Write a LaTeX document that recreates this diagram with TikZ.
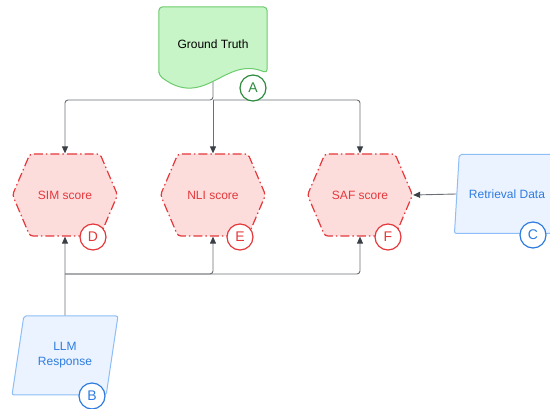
\documentclass[tikz,border=0pt]{standalone}
\usepackage{fontspec}
\setmainfont{Liberation Sans}
\usetikzlibrary{shapes.geometric,shapes.symbols,arrows.meta,backgrounds}

\definecolor{gtfill}{HTML}{C8F5C8}
\definecolor{gtline}{HTML}{6CCB6C}
\definecolor{gtdark}{HTML}{2E8B3E}
\definecolor{scorered}{HTML}{E5383B}
\definecolor{scorefill}{HTML}{FDDCDC}
\definecolor{inblue}{HTML}{2E7CE0}
\definecolor{inline}{HTML}{8DBEF7}
\definecolor{infill}{HTML}{EAF3FF}
\definecolor{linkgray}{HTML}{6B6F75}
\definecolor{arrowdark}{HTML}{3A3F45}

\tikzset{
  label font/.style={font=\fontsize{12}{15}\selectfont},
  scorebox/.style={signal, signal to=west and east, signal pointer angle=134,
    minimum width=105pt, minimum height=82pt, draw=scorered, fill=scorefill,
    text=scorered, line width=1.2pt, rounded corners=3pt,
    dash pattern=on 9pt off 3pt on 1.5pt off 3pt, label font},
  inputbox/.style={trapezium, trapezium left angle=75, trapezium right angle=105,
    trapezium stretches=true, minimum width=106pt, minimum height=79pt,
    draw=inline, fill=infill, text=inblue, line width=1pt, rounded corners=2pt,
    align=center, label font},
  badge/.style={circle, draw=#1, text=#1, fill=white, line width=1.2pt,
    minimum size=26pt, inner sep=0pt, font=\fontsize{14}{14}\selectfont},
  link/.style={draw=linkgray, line width=0.9pt, rounded corners=3pt,
    -{Triangle[length=7pt,width=6pt,color=arrowdark]}}
}

\begin{document}
\begin{tikzpicture}[x=1pt, y=-1pt]
    \useasboundingbox (0,0) rectangle (550,409);

    % Ground truth (document shape)
    \node[minimum width=108pt, minimum height=75pt, inner sep=0pt, label font] (gt) at (213,44.5) {Ground Truth};
    \begin{scope}[on background layer]
        \draw[draw=gtline, fill=gtfill, line width=1pt, rounded corners=4pt]
            ([yshift=7pt]gt.south west) -- (gt.north west) -- (gt.north east)
            -- ([yshift=9pt]gt.south east)
            .. controls ([xshift=12pt,yshift=27pt]gt.south) and ([xshift=-8pt,yshift=-28pt]gt.south)
            .. ([yshift=7pt]gt.south west) -- cycle;
    \end{scope}

    % Scores
    \node[scorebox] (sim) at (65,195) {SIM score};
    \node[scorebox] (nli) at (213,195) {NLI score};
    \node[scorebox] (saf) at (360,195) {SAF score};

    % Inputs
    \node[inputbox] (ret) at (507,194) {Retrieval Data};
    \node[inputbox] (llm) at (65,355.5) {LLM\\Response};

    % Connectors
    \coordinate (gtsplit) at (213,100);
    \coordinate (llmsplit) at (65,274);
    \draw[link] (gt.south) -- (gtsplit) -| (sim.north);
    \draw[link] (gtsplit) -- (nli.north);
    \draw[link] (gtsplit) -| (saf.north);
    \draw[link] (llm.north) -- (sim.south);
    \draw[link] (llmsplit) -| (nli.south);
    \draw[link] (llmsplit) -| (saf.south);
    \draw[link] (ret.west) -- (saf.east);

    % Badges
    \node[badge=gtdark] (a) at (253,88) {A};
    \node[badge=inblue] (b) at (92,396) {B};
    \node[badge=inblue] (c) at (533,235) {C};
    \node[badge=scorered] (d) at (93,237) {D};
    \node[badge=scorered] (e) at (240,237) {E};
    \node[badge=scorered] (f) at (388,237) {F};
\end{tikzpicture}
\end{document}
